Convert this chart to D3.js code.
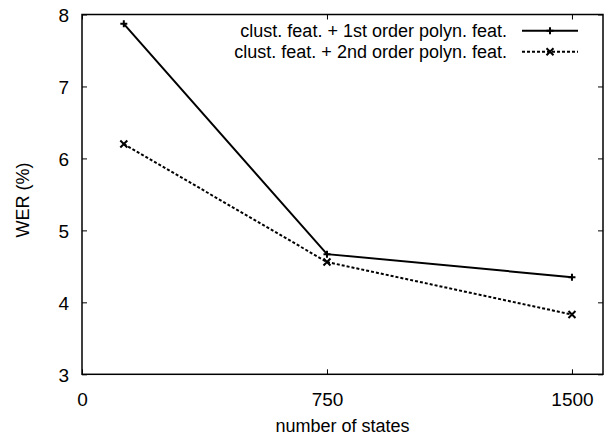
<!DOCTYPE html>
<html>
<head>
<meta charset="utf-8">
<script src="https://cdn.jsdelivr.net/npm/d3@7"></script>
<style>
  body { margin: 0; background: #fff; }
  text { font-family: "Liberation Sans", Arial, sans-serif; fill: #000; }
</style>
</head>
<body>
<script>
(function() {
    var w = 605;
    var h = 437;

    // data
    var states = [128, 750, 1500];
    var werFirst = [7.87, 4.67, 4.35];   // clust. feat. + 1st order polyn. feat.
    var werSecond = [6.2, 4.56, 3.83];   // clust. feat. + 2nd order polyn. feat.
    var seriesNames = ["clust. feat. + 1st order polyn. feat.",
                       "clust. feat. + 2nd order polyn. feat."];
    var xTicks = [0, 750, 1500];
    var yTicks = [3, 4, 5, 6, 7, 8];

    var left = 82, right = 603, top = 14.5, bottom = 374.3;

    var svg = d3.select("body").append("svg")
        .attr("width", w)
        .attr("height", h);

    var x = d3.scaleLinear().domain([0, 1595]).range([left, right]);
    var y = d3.scaleLinear().domain([3, 8]).range([bottom, top]);

    var tickLen = 5;
    var fmt = d3.format("d");

    // bottom axis, ticks inward
    var xAxis = svg.append("g")
        .attr("transform", "translate(0," + bottom + ")")
        .call(d3.axisBottom(x).tickValues(xTicks).tickFormat(fmt)
            .tickSize(-tickLen).tickPadding(18).tickSizeOuter(0));
    // top mirror
    var xTop = svg.append("g")
        .attr("transform", "translate(0," + top + ")")
        .call(d3.axisTop(x).tickValues(xTicks).tickSize(-tickLen).tickFormat("").tickSizeOuter(0));
    // left axis
    var yAxis = svg.append("g")
        .attr("transform", "translate(" + left + ",0)")
        .call(d3.axisLeft(y).tickValues(yTicks).tickFormat(fmt)
            .tickSize(-tickLen).tickPadding(13).tickSizeOuter(0));
    // right mirror
    var yRight = svg.append("g")
        .attr("transform", "translate(" + right + ",0)")
        .call(d3.axisRight(y).tickValues(yTicks).tickSize(-tickLen).tickFormat("").tickSizeOuter(0));

    [xAxis, xTop, yAxis, yRight].forEach(function(g) {
        g.select(".domain").remove();
        g.selectAll(".tick line").attr("stroke", "#000").attr("stroke-width", 1);
        g.selectAll(".tick text")
            .style("font-family", "'Liberation Sans', Arial, sans-serif")
            .style("font-size", "19px")
            .attr("fill", "#000");
    });
    yAxis.selectAll(".tick text").attr("dy", "0.36em");
    xAxis.selectAll(".tick text").attr("dy", "0.71em");

    // frame
    svg.append("rect")
        .attr("x", left)
        .attr("y", top)
        .attr("width", right - left)
        .attr("height", bottom - top)
        .attr("fill", "none")
        .attr("stroke", "#000")
        .attr("stroke-width", 1.5);

    // axis titles
    svg.append("text")
        .attr("x", (left + right) / 2)
        .attr("y", 432)
        .attr("text-anchor", "middle")
        .style("font-size", "18px")
        .text("number of states");

    svg.append("text")
        .attr("transform", "translate(29,200) rotate(-90)")
        .attr("text-anchor", "middle")
        .style("font-size", "18px")
        .text("WER (%)");

    var line = d3.line()
        .x(function(d) { return x(d[0]); })
        .y(function(d) { return y(d[1]); });

    var series = [
        { vals: werFirst, dash: null, mark: "plus" },
        { vals: werSecond, dash: "3,2", mark: "cross" }
    ];

    function drawMark(g, cx, cy, kind) {
        var s = 3.5;
        var p = kind === "plus"
            ? "M" + (cx - s) + "," + cy + "H" + (cx + s) + "M" + cx + "," + (cy - s) + "V" + (cy + s)
            : "M" + (cx - s) + "," + (cy - s) + "L" + (cx + s) + "," + (cy + s) +
              "M" + (cx - s) + "," + (cy + s) + "L" + (cx + s) + "," + (cy - s);
        g.append("path")
            .attr("d", p)
            .attr("stroke", "#000")
            .attr("stroke-width", 2)
            .attr("fill", "none");
    }

    series.forEach(function(s) {
        var pts = states.map(function(v, i) { return [v, s.vals[i]]; });
        svg.append("path")
            .datum(pts)
            .attr("d", line)
            .attr("fill", "none")
            .attr("stroke", "#000")
            .attr("stroke-width", 2)
            .attr("stroke-dasharray", s.dash);
        var g = svg.append("g");
        pts.forEach(function(p) { drawMark(g, x(p[0]), y(p[1]), s.mark); });
    });

    // legend
    var legend = svg.append("g");
    seriesNames.forEach(function(name, i) {
        var ly = 30.7 + i * 21;
        legend.append("text")
            .attr("x", 507)
            .attr("y", ly)
            .attr("dy", "0.35em")
            .attr("text-anchor", "end")
            .style("font-size", "18px")
            .text(name);
        legend.append("line")
            .attr("x1", 522).attr("x2", 578)
            .attr("y1", ly).attr("y2", ly)
            .attr("stroke", "#000")
            .attr("stroke-width", 2)
            .attr("stroke-dasharray", series[i].dash);
        drawMark(legend, 550, ly, series[i].mark);
    });
})();
</script>
</body>
</html>
